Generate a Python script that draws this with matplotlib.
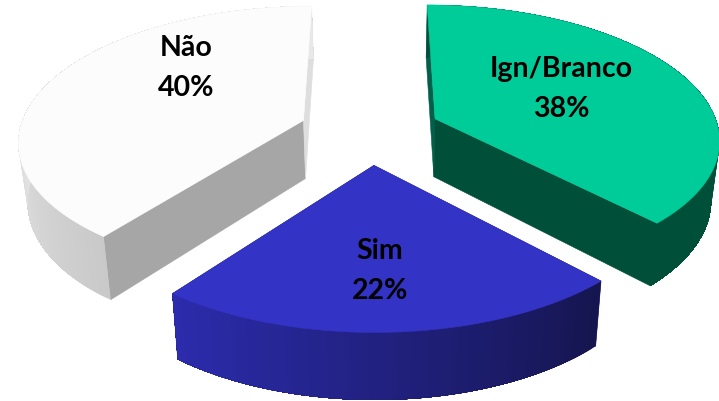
import numpy as np
import matplotlib
matplotlib.use("Agg")
import matplotlib.pyplot as plt
from matplotlib.patches import Polygon
from matplotlib.collections import PolyCollection
from matplotlib.colors import to_rgb

# Data
categories = ["Ign/Branco", "Sim", "Não"]
values = [37.9, 22.49, 39.61]
percent_labels = ["38%", "22%", "40%"]

# Styles
top_colors = ["#00CC99", "#3333C6", "#FCFCFC"]
start_face = ["#00604A", "#1A1A60", "#A6A6A6"]
end_face = ["#005039", "#1A1A60", "#DEDEDE"]
rim_from = ["#005039", "#15154F", "#C9C9C9"]
rim_to = ["#005039", "#2C2CAE", "#E8E8E8"]
rim_span = [None, None, 60]
label_xy = [(561, 89), (380, 271), (186, 68)]

# 3D-pie projection
CX, CY, A, B, P = 370.0, 131.0, 284.0, 133.0, 0.14
EXPLODE = 0.25
DEPTH, DEPTH_SLOPE, SHRINK, SHRINK_X = 58.0, 0.045, 0.975, 385.0


def top(X, Y):
    w = 1 + P * Y
    return CX + A * X / w, CY - B * Y / w


def bottom(x, y):
    return SHRINK_X + (x - SHRINK_X) * SHRINK, y + DEPTH + DEPTH_SLOPE * (y - 120)


fig = plt.figure(figsize=(7.19, 4.01), dpi=100)
ax = fig.add_axes([0, 0, 1, 1])
ax.set_xlim(0, 719)
ax.set_ylim(401, 0)
ax.axis("off")

edges = np.concatenate([[0], np.cumsum(values)]) / sum(values) * 2 * np.pi
for i, cat in enumerate(categories):
    t0, t1 = edges[i], edges[i + 1]
    mid = (t0 + t1) / 2
    X0, Y0 = EXPLODE * np.sin(mid), EXPLODE * np.cos(mid)
    t = np.linspace(t0, t1, max(int(np.degrees(t1 - t0)), 2) + 1)
    ax_x, ax_y = top(X0 + np.sin(t), Y0 + np.cos(t))
    bx, by = bottom(ax_x, ax_y)
    ox, oy = top(X0, Y0)
    obx, oby = bottom(ox, oy)

    # radial faces
    for k, col in ((0, start_face[i]), (-1, end_face[i])):
        ax.add_patch(Polygon([(ox, oy), (ax_x[k], ax_y[k]), (bx[k], by[k]), (obx, oby)],
                             closed=True, fc=col, ec=col, lw=0.4, zorder=2 + i * 0.01))

    # outer rim with a colour ramp along the arc; each band runs on to the
    # end of the arc so that the next one overlaps it and no seams show
    c0, c1 = np.array(to_rgb(rim_from[i])), np.array(to_rgb(rim_to[i]))
    n = len(t) - 1
    span = rim_span[i] or n
    polys, cols = [], []
    for j in range(n):
        polys.append(np.column_stack([np.r_[ax_x[j:], bx[j:][::-1]],
                                      np.r_[ax_y[j:], by[j:][::-1]]]))
        f = min(j / span, 1)
        cols.append(c0 + (c1 - c0) * f)
    ax.add_collection(PolyCollection(polys, facecolors=cols, edgecolors="none",
                                     zorder=3))

    # top face
    ax.add_patch(Polygon(np.column_stack([np.r_[ox, ax_x], np.r_[oy, ax_y]]),
                         closed=True, fc=top_colors[i], ec=top_colors[i], lw=0.4, zorder=4))

    lx, ly = label_xy[i]
    ax.text(lx, ly, f"{cat}\n{percent_labels[i]}", ha="center", va="center",
            family="Lato", weight="bold", fontsize=20.5, linespacing=1.62,
            color="black", zorder=5)

fig.savefig("out.png", dpi=100)
